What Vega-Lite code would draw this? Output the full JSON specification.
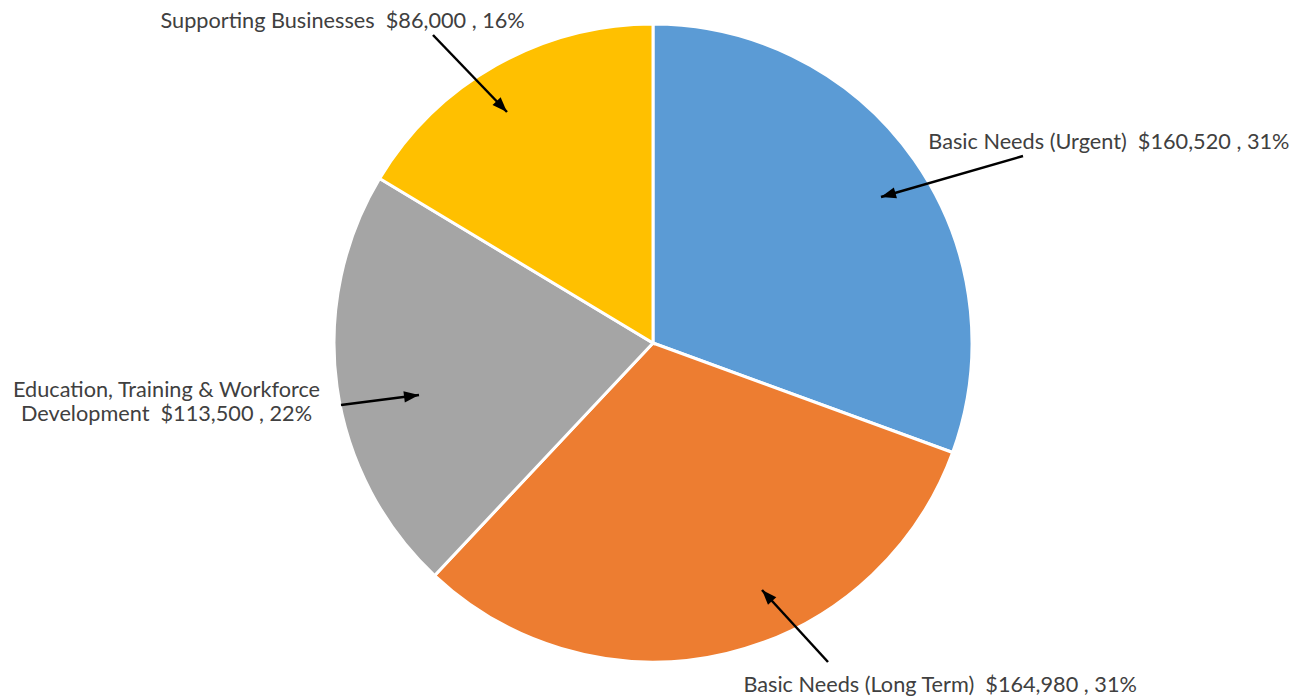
{
  "$schema": "https://vega.github.io/schema/vega-lite/v6.json",
  "width": 1284,
  "height": 686,
  "padding": {"left": 11, "top": 0, "right": 0, "bottom": 12},
  "background": "white",
  "config": {"view": {"stroke": null}},
  "datasets": {
    "slices": [
      {"category": "Basic Needs (Urgent)", "amount": 160520, "order": 1},
      {"category": "Basic Needs (Long Term)", "amount": 164980, "order": 2},
      {"category": "Education, Training & Workforce Development", "amount": 113500, "order": 3},
      {"category": "Supporting Businesses", "amount": 86000, "order": 4}
    ],
    "labels": [
      {"text": "Supporting Businesses \u00a0$86,000 , 16%", "lx": -97.3, "ly": 100.9},
      {"text": "Basic Needs (Urgent) \u00a0$160,520 , 31%", "lx": 142.9, "ly": 63.0},
      {"text": "Education, Training & Workforce\nDevelopment \u00a0$113,500 , 22%", "lx": -152.5, "ly": -14.7},
      {"text": "Basic Needs (Long Term) \u00a0$164,980 , 31%", "lx": 90.0, "ly": -107.2}
    ],
    "arrows": [
      {"x": -68.97, "y": 96.55, "x2": -45.77, "y2": 72.41},
      {"x": 115.99, "y": 58.62, "x2": 71.47, "y2": 45.77},
      {"x": -97.81, "y": -19.44, "x2": -73.35, "y2": -16.30},
      {"x": 54.86, "y": -100.0, "x2": 34.17, "y2": -77.43}
    ]
  },
  "layer": [
    {
      "data": {"name": "slices"},
      "mark": {"type": "arc", "radius": 319, "stroke": "white", "strokeWidth": 3},
      "encoding": {
        "theta": {"field": "amount", "type": "quantitative", "stack": true},
        "order": {"field": "order", "type": "ordinal"},
        "color": {
          "field": "category",
          "type": "nominal",
          "scale": {
            "domain": ["Basic Needs (Urgent)", "Basic Needs (Long Term)", "Education, Training & Workforce Development", "Supporting Businesses"],
            "range": ["#5B9BD5", "#ED7D31", "#A5A5A5", "#FFC000"]
          },
          "legend": null
        }
      }
    },
    {
      "data": {"name": "arrows"},
      "mark": {"type": "rule", "color": "black", "strokeWidth": 2.5},
      "encoding": {
        "x": {"field": "x", "type": "quantitative", "scale": {"domain": [-201.25, 201.25], "nice": false, "zero": false}, "axis": null},
        "y": {"field": "y", "type": "quantitative", "scale": {"domain": [-107.52, 107.52], "nice": false, "zero": false}, "axis": null},
        "x2": {"field": "x2"},
        "y2": {"field": "y2"}
      }
    },
    {
      "data": {"name": "arrows"},
      "transform": [{"calculate": "atan2(datum.x2 - datum.x, datum.y2 - datum.y) * 180 / PI", "as": "angle"}],
      "mark": {"type": "point", "shape": "M0,0L0.75,2L-0.75,2Z", "filled": true, "color": "black", "size": 225, "opacity": 1, "strokeWidth": 0},
      "encoding": {
        "x": {"field": "x2", "type": "quantitative"},
        "y": {"field": "y2", "type": "quantitative"},
        "angle": {"field": "angle", "type": "quantitative", "scale": null}
      }
    },
    {
      "data": {"name": "labels"},
      "mark": {"type": "text", "font": "Lato", "fontSize": 21.7, "color": "#404040", "align": "center", "baseline": "middle", "lineBreak": "\n", "lineHeight": 24},
      "encoding": {
        "x": {"field": "lx", "type": "quantitative"},
        "y": {"field": "ly", "type": "quantitative"},
        "text": {"field": "text", "type": "nominal"}
      }
    }
  ]
}
